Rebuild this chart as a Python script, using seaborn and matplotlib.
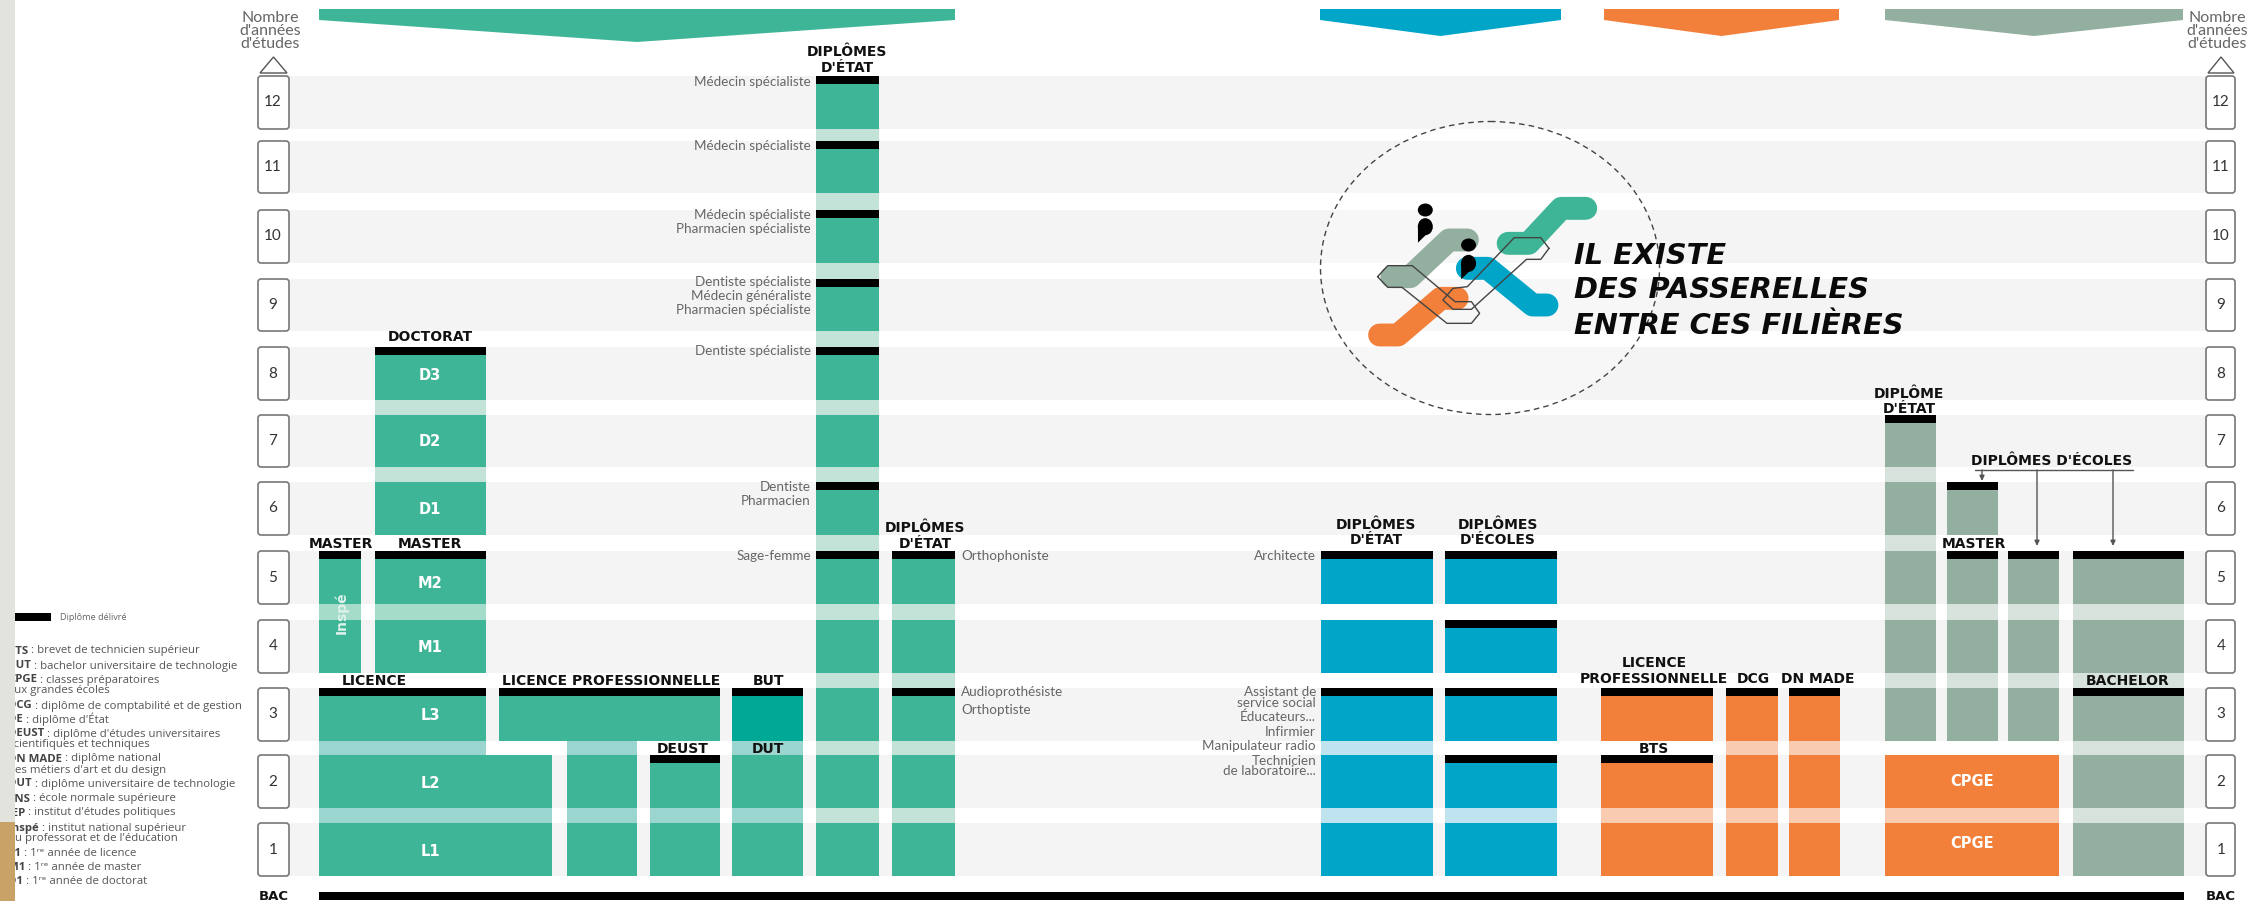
import numpy as np
import matplotlib
matplotlib.use("Agg")
import matplotlib.pyplot as plt
from matplotlib.patches import Ellipse, FancyBboxPatch, Polygon, Rectangle
import seaborn as sns

# Years of study
year_numbers = list(range(1, 13))

# Programmes: years of study covered, strips joining year n to n+1, years with a diploma
licence_low_years = [1, 2]
licence_low_links = [1]
licence_top_years = [3]
licence_top_links = [2]
licence_top_diplomas = [3]
inspe_years = [4, 5]
inspe_links = [4]
inspe_diplomas = [5]
master_years = [4, 5, 6, 7, 8]
master_links = [4, 6, 7]
master_diplomas = [5, 8]
lp_top_years = [3]
lp_top_diplomas = [3]
lp_low_years = [1, 2]
lp_low_links = [1, 2]
deust_years = [1, 2]
deust_links = [1]
deust_diplomas = [2]
dut_years = [1, 2]
dut_links = [1, 2]
but_years = [3]
but_diplomas = [3]
sante_years = list(range(1, 13))
sante_links = list(range(1, 12))
sante_diplomas = [5, 6, 8, 9, 10, 11, 12]
para_years = [1, 2, 3, 4, 5]
para_links = [1, 2, 3, 4]
para_diplomas = [3, 5]
social_years = [1, 2, 3, 4, 5]
social_links = [1, 2]
social_diplomas = [3, 5]
ecoles_years = [1, 2, 3, 4, 5]
ecoles_links = [1]
ecoles_diplomas = [2, 3, 4, 5]
bts_years = [1, 2, 3]
bts_links = [1]
bts_diplomas = [2, 3]
dcg_years = [1, 2, 3]
dcg_links = [1, 2]
dcg_diplomas = [3]
made_years = [1, 2, 3]
made_links = [1, 2]
made_diplomas = [3]
cpge_years = [1, 2]
cpge_links = [1]
gdip_years = [3, 4, 5, 6, 7]
gdip_links = [3, 4, 5, 6]
gdip_diplomas = [7]
gmaster_years = [3, 4, 5, 6]
gmaster_links = [3, 4]
gmaster_diplomas = [5, 6]
gecole_years = [3, 4, 5]
gecole_links = [3, 4]
gecole_diplomas = [5]
bachelor_years = [1, 2, 3, 4, 5]
bachelor_links = [1, 2, 3, 4]
bachelor_diplomas = [3, 5]

# Text
side_labels_left = [("Médecin spécialiste", 82), ("Médecin spécialiste", 146), ("Médecin spécialiste", 215),
                    ("Pharmacien spécialiste", 229), ("Dentiste spécialiste", 282), ("Médecin généraliste", 296),
                    ("Pharmacien spécialiste", 310), ("Dentiste spécialiste", 351), ("Dentiste", 487),
                    ("Pharmacien", 501), ("Sage-femme", 556)]
side_labels_para = [("Orthophoniste", 556), ("Audioprothésiste", 692), ("Orthoptiste", 710)]
side_labels_social = [("Architecte", 556), ("Assistant de", 692), ("service social", 703), ("Éducateurs...", 717),
                      ("Infirmier", 732), ("Manipulateur radio", 746), ("Technicien", 761), ("de laboratoire...", 771)]
headers = [("DIPLÔMES", 847, 52), ("D'ÉTAT", 847, 68), ("DOCTORAT", 430, 337), ("MASTER", 341, 544),
           ("MASTER", 430, 544), ("DIPLÔMES", 925, 528), ("D'ÉTAT", 925, 544), ("LICENCE", 374, 681),
           ("LICENCE PROFESSIONNELLE", 611, 681), ("BUT", 768, 681), ("DEUST", 683, 749), ("DUT", 768, 749),
           ("DIPLÔMES", 1376, 525), ("D'ÉTAT", 1376, 540), ("DIPLÔMES", 1498, 525), ("D'ÉCOLES", 1498, 540),
           ("LICENCE", 1654, 663), ("PROFESSIONNELLE", 1654, 679), ("DCG", 1753, 679), ("DN MADE", 1818, 679),
           ("BTS", 1654, 749), ("BACHELOR", 2128, 681), ("MASTER", 1974, 544), ("DIPLÔMES D'ÉCOLES", 2052, 461),
           ("DIPLÔME", 1909, 394), ("D'ÉTAT", 1909, 409)]
inner_labels = [("D3", 430, 376), ("D2", 430, 442), ("D1", 430, 509), ("M2", 430, 584), ("M1", 430, 647),
                ("L3", 430, 716), ("L2", 430, 784), ("L1", 430, 852), ("CPGE", 1972, 782), ("CPGE", 1972, 844)]
legend_lines = [("BTS", " : brevet de technicien supérieur", 651), ("BUT", " : bachelor universitaire de technologie", 666),
                ("CPGE", " : classes préparatoires", 680), ("", "aux grandes écoles", 690),
                ("DCG", " : diplôme de comptabilité et de gestion", 706), ("DE", " : diplôme d'État", 719),
                ("DEUST", " : diplôme d'études universitaires", 734), ("", "scientifiques et techniques", 744),
                ("DN MADE", " : diplôme national", 759), ("", "des métiers d'art et du design", 770),
                ("DUT", " : diplôme universitaire de technologie", 784), ("ENS", " : école normale supérieure", 799),
                ("IEP", " : institut d'études politiques", 813), ("Inspé", " : institut national supérieur", 828),
                ("", "du professorat et de l'éducation", 838), ("L1", " : 1ʳᵉ année de licence", 853),
                ("M1", " : 1ʳᵉ année de master", 867), ("D1", " : 1ʳᵉ année de doctorat", 882)]

# Layout (pixels of the page)
band_tops = [823, 755, 688, 620, 551, 482, 415, 347, 279, 210, 141, 76]
band_bottoms = [876, 808, 741, 673, 604, 535, 467, 400, 331, 263, 193, 129]
W, H = 2249, 901
BAND = 0.78
TICK = 0.118

GREEN, BLUE, ORANGE, GREY = "#3FB597", "#00A5C8", "#F27F3A", "#93AFA0"
TEAL = "#00A896"
L_GREEN, L_TEAL, L_MINT = "#C3E3D8", "#9BD5CF", "#A5DBC9"
L_BLUE, L_ORANGE, L_GREY = "#BFE3EF", "#F9CBB0", "#D6E2DB"

programmes = [
    (318.5, 552, licence_low_years, licence_low_links, [], GREEN, L_TEAL),
    (318.5, 485.6, licence_top_years, licence_top_links, licence_top_diplomas, GREEN, L_TEAL),
    (318.5, 361, inspe_years, inspe_links, inspe_diplomas, GREEN, L_MINT),
    (374.5, 485.6, master_years, [4], master_diplomas, GREEN, L_MINT),
    (374.5, 485.6, [], [6, 7], [], GREEN, L_GREEN),
    (498.5, 720, lp_top_years, [], lp_top_diplomas, GREEN, L_TEAL),
    (567, 637, lp_low_years, lp_low_links, [], GREEN, L_TEAL),
    (650, 720, deust_years, deust_links, deust_diplomas, GREEN, L_TEAL),
    (732, 803, dut_years, dut_links, [], GREEN, L_TEAL),
    (732, 803, but_years, [], but_diplomas, TEAL, L_TEAL),
    (816, 879, sante_years, sante_links, sante_diplomas, GREEN, L_GREEN),
    (892, 955, para_years, para_links, para_diplomas, GREEN, L_GREEN),
    (1321, 1433, social_years, social_links, social_diplomas, BLUE, L_BLUE),
    (1445, 1557, ecoles_years, ecoles_links, ecoles_diplomas, BLUE, L_BLUE),
    (1601, 1713, bts_years, bts_links, bts_diplomas, ORANGE, L_ORANGE),
    (1726, 1778, dcg_years, dcg_links, dcg_diplomas, ORANGE, L_ORANGE),
    (1789, 1840, made_years, made_links, made_diplomas, ORANGE, L_ORANGE),
    (1885, 2059, cpge_years, cpge_links, [], ORANGE, L_ORANGE),
    (1885, 1936, gdip_years, gdip_links, gdip_diplomas, GREY, L_GREY),
    (1947, 1998, gmaster_years, gmaster_links, gmaster_diplomas, GREY, L_GREY),
    (2008, 2059, gecole_years, gecole_links, gecole_diplomas, GREY, L_GREY),
    (2073, 2184, bachelor_years, bachelor_links, bachelor_diplomas, GREY, L_GREY),
]

# Year axis: each year is a band, then a narrow gap. The gaps are not quite even on the page
edge_years = [-0.37]
edge_height = [0.0]
for k in range(12):
    edge_years += [k, k + BAND]
    edge_height += [H - band_bottoms[k], H - band_tops[k]]
edge_years.append(12.9)
edge_height.append(float(H))


def forward(y):
    return np.interp(y, edge_years, edge_height)


def inverse(v):
    return np.interp(v, edge_height, edge_years)


sns.set_theme(style="white")
plt.rcParams["font.family"] = ["Lato", "DejaVu Sans"]
WIDE_BOLD = dict(family="DejaVu Sans", fontweight="bold")

fig = plt.figure(figsize=(W / 100, H / 100), dpi=100)
ax = fig.add_axes([0, 0, 1, 1])


def cell(left, right, y0, y1, color):
    sns.barplot(x=[(left + right) / 2], y=[y1 - y0], bottom=y0, width=right - left, native_scale=True,
                color=color, saturation=1, errorbar=None, linewidth=0, ax=ax)


for year in year_numbers:
    cell(289, 2206, year - 1, year - 1 + BAND, "#F4F4F4")

for left, right, years, links, diplomas, color, light in programmes:
    for year in years:
        cell(left, right, year - 1, year - 1 + BAND, color)
    for year in links:
        cell(left, right, year - 1 + BAND, year, light)
    for year in diplomas:
        cell(left, right, year - 1 + BAND - TICK, year - 1 + BAND, "black")

ax.set_yscale("function", functions=(forward, inverse))
ax.set_xlim(0, W)
ax.set_ylim(-0.37, 12.9)
ax.axis("off")

# Everything that is not a value goes on a page overlay in pixels
pax = fig.add_axes([0, 0, 1, 1], facecolor="none")
pax.set_xlim(0, W)
pax.set_ylim(H, 0)
pax.axis("off")

# Top chevrons
for x0, x1, y_tip, c in [(319, 955, 42, GREEN), (1320, 1561, 36, BLUE), (1604, 1839, 36, ORANGE), (1885, 2183, 36, GREY)]:
    pax.add_patch(Polygon([(x0, 9), (x1, 9), (x1, 20), ((x0 + x1) / 2, y_tip), (x0, 20)], closed=True, fc=c, ec="none"))

# Year boxes on both sides
for bx0, bx1, tx0, tx1, head_x, num_x in [(258, 289, 260, 287, 270, 273), (2206, 2235, 2208, 2234, 2217, 2221)]:
    for i, year in enumerate(year_numbers):
        pax.add_patch(FancyBboxPatch((bx0, band_tops[i]), bx1 - bx0, band_bottoms[i] - band_tops[i],
                                     boxstyle="round,pad=0,rounding_size=3", fc="white", ec="#777777", lw=1.2))
        pax.text(num_x, (band_tops[i] + band_bottoms[i]) / 2, str(year), ha="center", va="center", fontsize=11, color="#333333")
    pax.add_patch(Polygon([(tx0, 73), (tx1, 73), ((tx0 + tx1) / 2, 57)], closed=True, fc="white", ec="#555555", lw=1))
    for line, yy in zip(["Nombre", "d'années", "d'études"], [18, 31, 44]):
        pax.text(head_x, yy, line, ha="center", va="center", fontsize=11.5, color="#666666")
    pax.text((bx0 + bx1) / 2, 896, "BAC", ha="center", va="center", fontsize=9.5, color="#111111", **WIDE_BOLD)

# Bac line
pax.add_patch(Rectangle((319, 892), 2184 - 319, 8, fc="black", ec="none"))

for text, yy in side_labels_left:
    pax.text(811, yy, text, ha="right", va="center", fontsize=9.7, color="#666666")
for text, yy in side_labels_para:
    pax.text(961, yy, text, ha="left", va="center", fontsize=9.7, color="#666666")
for text, yy in side_labels_social:
    pax.text(1316, yy, text, ha="right", va="center", fontsize=9.7, color="#666666")
for text, xx, yy in headers:
    pax.text(xx, yy, text, ha="center", va="center", fontsize=10, color="#111111", **WIDE_BOLD)
for text, xx, yy in inner_labels:
    pax.text(xx, yy, text, ha="center", va="center", fontsize=10.5, color="white", **WIDE_BOLD)
pax.text(341, 613, "Inspé", ha="center", va="center", rotation=90, fontsize=10, color="#DDF2EA", **WIDE_BOLD)

# Diplomes d'ecoles bracket
pax.plot([1975, 2133], [470, 470], color="#555555", lw=1)
for xx, y_end in [(1982, 481), (2037, 546), (2113, 546)]:
    pax.annotate("", xy=(xx, y_end), xytext=(xx, 470),
                 arrowprops=dict(arrowstyle="-|>,head_width=0.12,head_length=0.25", color="#555555", lw=1, shrinkA=0, shrinkB=0))

# Badge: dashed circle, crossing paths, people, slogan


def zx(v):
    return 1300 + np.asarray(v, dtype=float) / 2.45


def zy(v):
    return 100 + np.asarray(v, dtype=float) / 3


pax.add_patch(Ellipse((1490, 268), 339, 293, fc="white", alpha=0.35, ec="none"))
pax.add_patch(Ellipse((1490, 268), 339, 293, fc="none", ec="#444444", lw=1, ls=(0, (4, 3))))
for xs, ys, c in [([510, 560, 640, 700], [430, 430, 325, 325], GREEN), ([225, 270, 365, 410], [530, 530, 420, 420], GREY),
                  ([410, 460, 570, 605], [505, 505, 615, 615], BLUE), ([195, 240, 345, 385], [705, 705, 595, 595], ORANGE)]:
    pax.plot(zx(xs), zy(ys), color=c, lw=16.5, solid_capstyle="round", solid_joinstyle="round")
for xs, ys in [([190, 215, 275, 380, 420, 440, 420, 360, 250, 215, 190], [530, 497, 497, 605, 605, 640, 670, 670, 562, 562, 530]),
               ([610, 590, 525, 410, 375, 350, 375, 420, 555, 590, 610], [445, 413, 413, 560, 565, 600, 628, 628, 478, 478, 445])]:
    pax.plot(zx(xs), zy(ys), color="#444444", lw=1, solid_joinstyle="round")
for hx, hy, bx, by in [(307, 330, 307, 380), (413, 435, 413, 490)]:
    pax.add_patch(Ellipse((zx(hx), zy(hy)), 15, 13, fc="black", ec="none", zorder=5))
    pax.add_patch(Ellipse((zx(bx), zy(by)), 15, 17, fc="black", ec="none", zorder=5))
    pax.add_patch(Polygon([(zx(bx - 18), zy(by)), (zx(bx + 18), zy(by + 5)), (zx(bx - 18), zy(by + 48))], closed=True, fc="black", ec="none", zorder=5))
for line, yy in zip(["IL EXISTE", "DES PASSERELLES", "ENTRE CES FILIÈRES"], [256, 290, 326]):
    pax.text(1574, yy, line, ha="left", va="center", fontsize=20.8, family="DejaVu Sans", fontweight="bold", fontstyle="italic", color="#0A0A0A")

# Legend
pax.add_patch(Rectangle((0, 613), 51, 8, fc="black", ec="none"))
pax.text(60, 617, "Diplôme délivré", ha="left", va="center", fontsize=6.6, family="Open Sans", color="#666666")
for bold, rest, yy in legend_lines:
    if bold:
        t = pax.text(8, yy, bold, ha="left", va="center", fontsize=8.2, family="Open Sans", fontweight="bold", color="#444444")
        pax.annotate(rest, xy=(1, 0.5), xycoords=t, ha="left", va="center", fontsize=8.2, family=["Open Sans", "DejaVu Sans"], color="#555555")
    else:
        pax.text(8, yy, rest, ha="left", va="center", fontsize=8.2, family="Open Sans", color="#555555")

# Edge of the scanned page
pax.add_patch(Rectangle((0, 0), 15, 822, fc="#E3E3DE", ec="none", zorder=10))
pax.add_patch(Rectangle((0, 822), 15, H - 822, fc="#C9A267", ec="none", zorder=10))

fig.savefig("out.png", dpi=100)
